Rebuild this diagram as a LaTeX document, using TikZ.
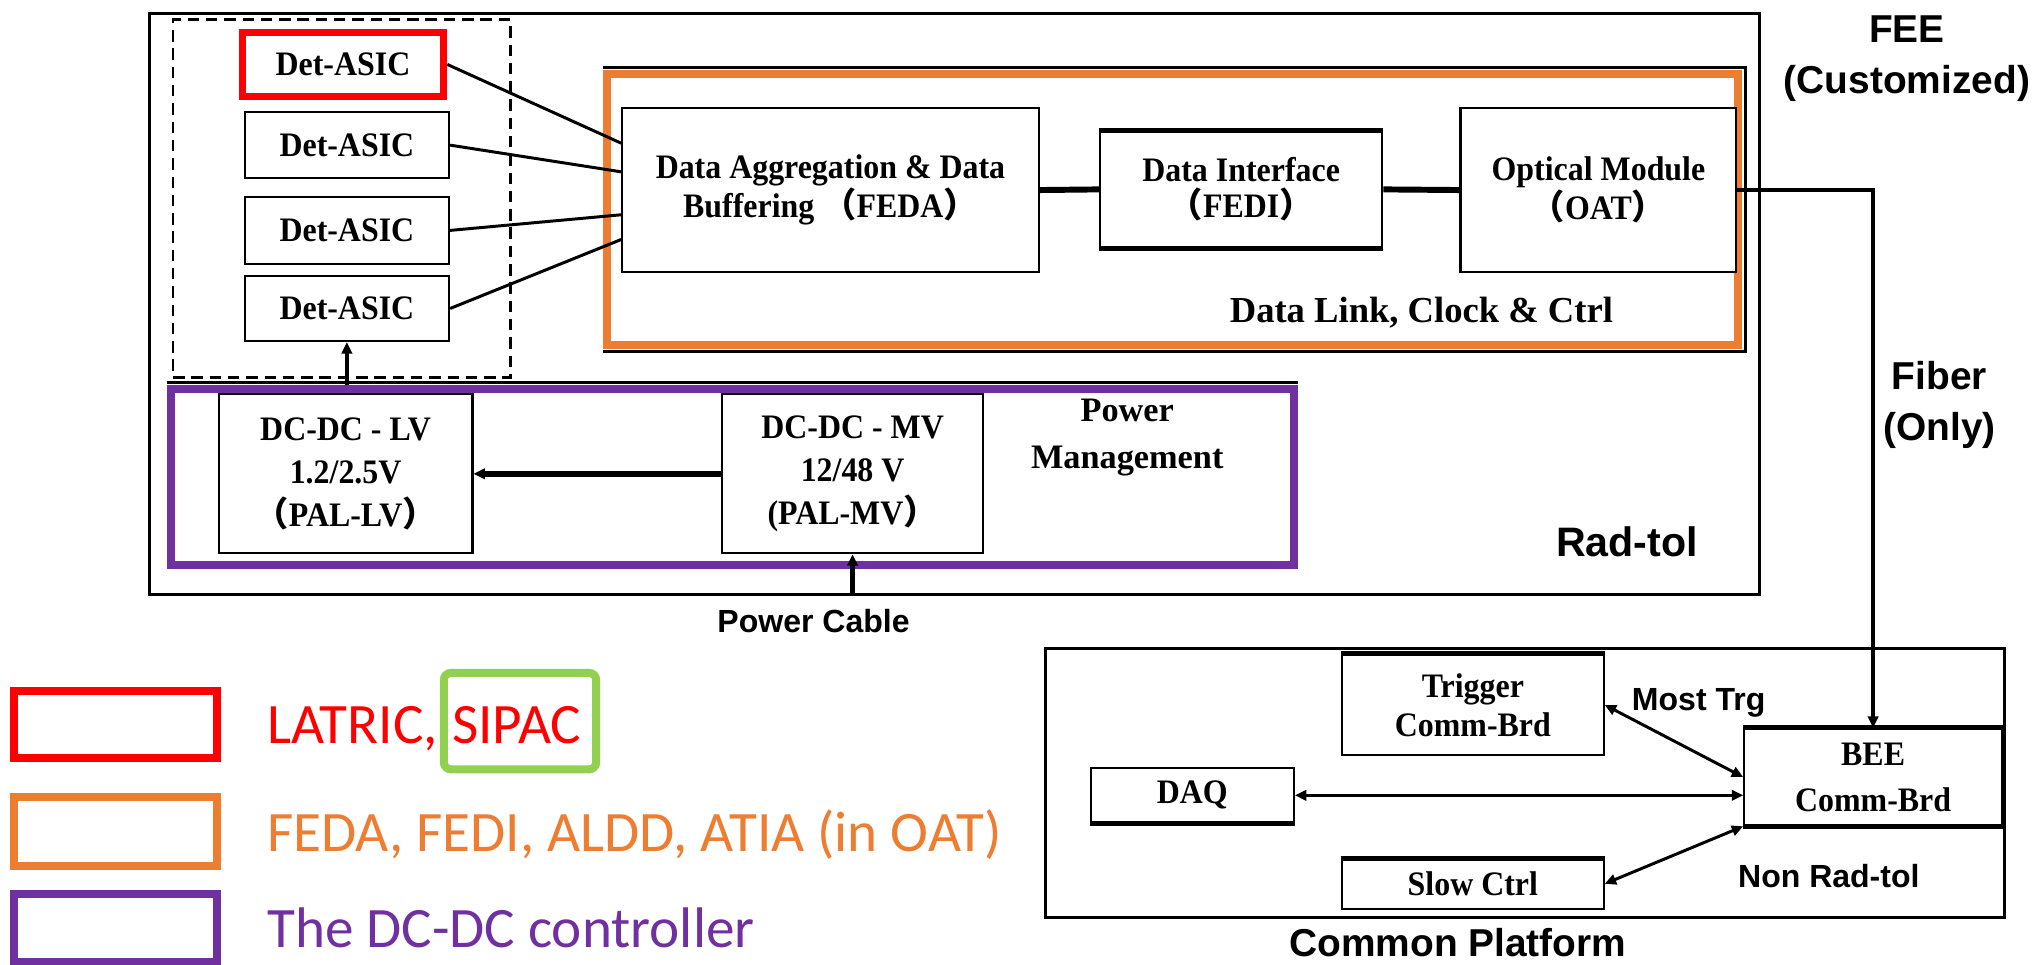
\documentclass[tikz,border=0pt]{standalone}
\usepackage{fontspec}
\setmainfont{Liberation Serif}
\newfontfamily\boxfont[FakeStretch=0.93]{Liberation Serif}
\newfontfamily\labelfont{Liberation Sans}
\newfontfamily\legendfont{Carlito}
\newfontfamily\cjk{Noto Sans CJK SC}
\usetikzlibrary{calc,arrows.meta}

\definecolor{asicred}{RGB}{255,0,0}
\definecolor{linkorange}{RGB}{237,125,49}
\definecolor{pwrpurple}{RGB}{112,48,160}
\definecolor{sipacgreen}{RGB}{146,208,80}

% full-width brackets
\newcommand\fwlp{{\cjk （}}
\newcommand\fwrp{{\cjk ）}}

% \blk[options]{name}{x1}{y1}{x2}{y2}{text}: a box spanning two corners
\newcommand\blk[7][]{%
  \node[box,#1,minimum width={(#5-#3)*0.02cm},minimum height={(#6-#4)*0.02cm}]
    (#2) at ({(#3+#5)/2},{(#4+#6)/2}) {#7};}

\begin{document}
\begin{tikzpicture}[x=0.02cm,y=-0.02cm,
  box/.style={draw, line width=0.9pt, fill=white, inner sep=0pt, align=center,
    font=\boxfont\bfseries\fontsize{15}{15.5}\selectfont},
  frame/.style={draw, fill=none, inner sep=0pt},
  lbl/.style={font=\labelfont\bfseries\fontsize{17}{22}\selectfont, inner sep=0pt, align=center},
  sml/.style={font=\labelfont\bfseries\fontsize{14}{16}\selectfont, inner sep=0pt},
  wire/.style={line width=1.3pt},
  bus/.style={line width=2.6pt},
  arr/.style={-{Triangle[length=5pt,width=4.5pt]}},
  biarr/.style={{Triangle[length=5pt,width=4.5pt]}-{Triangle[length=5pt,width=4.5pt]}},
  legbox/.style={line width=3.5pt},
  legtext/.style={font=\legendfont\fontsize{25}{30}\selectfont, anchor=base west, inner sep=0pt},
]
\useasboundingbox (0,0) rectangle (1568,741);
\fill[white] (0,0) rectangle (1568,741);

% ---------- front-end electronics ----------
\blk[frame, line width=1.3pt]{fee}{115}{10}{1352}{457}{}
\blk[frame, dash pattern=on 5pt off 3pt, line width=1.2pt]{asics}{133}{15}{392}{290}{}

\blk[draw=asicred, line width=3pt]{a1}{186}{25}{341}{74}{Det-ASIC}
\blk{a2}{188}{86}{345}{137}{Det-ASIC}
\blk{a3}{188}{151}{345}{203}{Det-ASIC}
\blk{a4}{188}{212}{345}{262}{Det-ASIC}

% data link group
\draw[line width=1.2pt] (463,52) -- (1341,52) -- (1341,270) -- (463,270);
\blk[frame, draw=linkorange, line width=3.5pt]{link}{466}{57}{1335}{265}{}

\blk{feda}{478}{83}{798}{209}{Data Aggregation \& Data\\Buffering \fwlp FEDA\fwrp}
\blk{fedi}{845}{101}{1062}{190}{Data Interface\\\fwlp FEDI\fwrp}
\blk{oat}{1122}{83}{1334}{209}{Optical Module\\\fwlp OAT\fwrp}
\draw[line width=2.2pt] (fedi.north west) -- (fedi.north east);
\draw[line width=2.2pt] (fedi.south west) -- (fedi.south east);

\node[font=\bfseries\fontsize{16}{18}\selectfont, inner sep=0pt] (dlc) at (1092,240)
  {Data Link, Clock \& Ctrl};

% power group
\draw[line width=1.2pt] (128,294) -- (997,294);
\blk[frame, draw=pwrpurple, line width=3.5pt]{pwr}{131}{299}{994}{434}{}

\blk[font=\boxfont\bfseries\fontsize{15}{18.7}\selectfont]{lv}{168}{303}{363}{425}
  {DC-DC - LV\\1.2/2.5V\\\fwlp PAL-LV\fwrp}
\blk[font=\boxfont\bfseries\fontsize{15}{18.7}\selectfont]{mv}{555}{303}{755}{425}
  {DC-DC - MV\\12/48 V\\(PAL-MV\fwrp}

\node[align=center, inner sep=0pt, font=\bfseries\fontsize{15}{20.5}\selectfont] (pm) at (866,336)
  {Power\\Management};

\node[lbl, font=\labelfont\bfseries\fontsize{18}{22}\selectfont] (radtol) at (1250,416) {Rad-tol};
\node[sml] (pcable) at (625,477) {Power Cable};
\node[lbl] (feelbl) at (1465,45) {FEE\\(Customized)};
\node[lbl] (fiberlbl) at (1490,311) {Fiber\\(Only)};

% ---------- common platform ----------
\blk[frame, line width=1.2pt]{cp}{803}{498}{1540}{705}{}
\blk[font=\boxfont\bfseries\fontsize{15}{17}\selectfont]{trig}{1031}{503}{1232}{580}{Trigger\\Comm-Brd}
\blk{daq}{838}{590}{994}{632}{DAQ}
\blk[font=\boxfont\bfseries\fontsize{15}{20}\selectfont]{bee}{1340}{560}{1538}{634}{BEE\\Comm-Brd}
\blk{slow}{1031}{660}{1232}{698}{Slow Ctrl}
\draw[line width=2.2pt] (trig.north west) -- (trig.north east);
\draw[line width=2.2pt] (daq.south west) -- (daq.south east);
\draw[line width=2.2pt] (bee.north west) -- (bee.north east);
\draw[line width=2.2pt] (bee.south west) -- (bee.south east);
\draw[line width=2.2pt] (slow.north west) -- (slow.north east);

\node[sml] (mosttrg) at (1305,540) {Most Trg};
\node[sml] (nonrad) at (1405,673) {Non Rad-tol};
\node[lbl] (cplbl) at (1120,724) {Common Platform};

% ---------- connections ----------
\draw[wire] (a1.east) -- ($(feda.west)+(0,-36)$);
\draw[wire] (a2.east) -- ($(feda.west)+(0,-14)$);
\draw[wire] (a3.east) -- ($(feda.west)+(0,19)$);
\draw[wire] (a4.east) -- ($(feda.west)+(0,38)$);
\draw[bus] (feda.east) -- (fedi.west);
\draw[bus] (fedi.east) -- (oat.west);
\draw[line width=1.8pt, arr] (oat.east) -| (bee.north);

\draw[line width=2.4pt, arr] (mv.west) -- (lv.east);
\draw[line width=2pt, arr] (fee.south -| mv.south) -- (mv.south);
\draw[line width=2pt, arr] (pwr.north -| a4.south) -- (a4.south);

\draw[wire, biarr] (trig.east) -- (bee.west);
\draw[wire, biarr] (daq.east) -- (daq.east -| bee.west);
\draw[wire, biarr] (slow.east) -- (bee.south west);

% ---------- legend ----------
\draw[asicred, legbox] (11,531) rectangle (167,582);
\draw[linkorange, legbox] (11,612) rectangle (167,665);
\draw[pwrpurple, legbox] (11,687) rectangle (167,739);

\node[legtext, text=asicred] (latric) at (205,571) {LATRIC,};
\draw[sipacgreen, line width=3.5pt, rounded corners=3pt] (341,517) rectangle (458,591);
\node[legtext, text=asicred] (sipac) at (347,571) {SIPAC};
\node[legtext, text=linkorange] (orangetxt) at (205,654) {FEDA, FEDI, ALDD, ATIA (in OAT)};
\node[legtext, text=pwrpurple] (purpletxt) at (205,728) {The DC-DC controller};
\end{tikzpicture}
\end{document}
